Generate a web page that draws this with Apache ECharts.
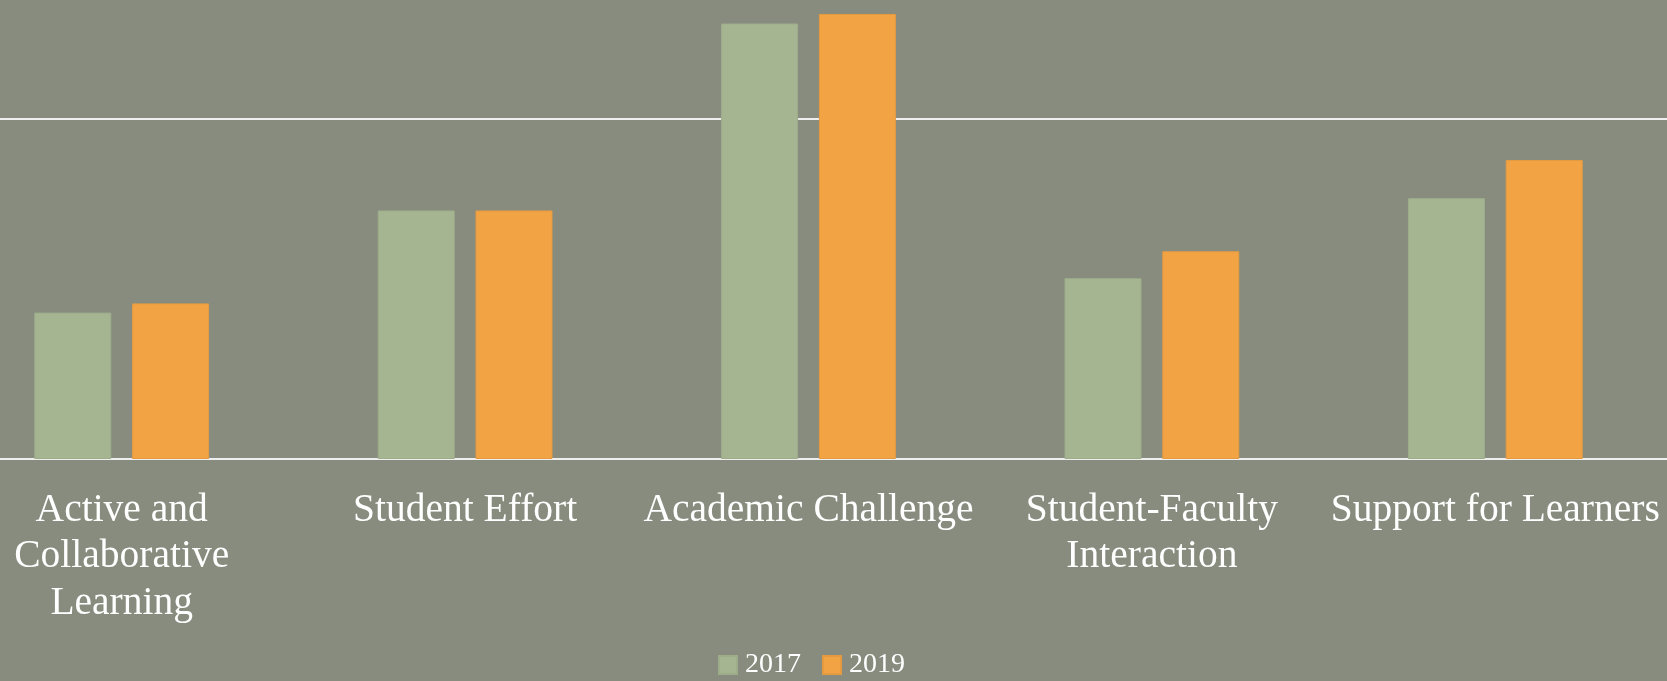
<!DOCTYPE html>
<html>
<head>
<meta charset="utf-8">
<script src="https://cdn.jsdelivr.net/npm/echarts@6/dist/echarts.min.js"></script>
<style>
html,body{margin:0;padding:0;background:#878c7e;}
#chart{width:1667px;height:681px;}
</style>
</head>
<body>
<div id="chart"></div>
<script>
var categories = ['Active and\nCollaborative\nLearning', 'Student Effort', 'Academic Challenge', 'Student-Faculty\nInteraction', 'Support for Learners'];
var values2017 = [4.30, 7.30, 12.79, 5.31, 7.66];
var values2019 = [4.57, 7.30, 13.07, 6.10, 8.78];
var seriesNames = ['2017', '2019'];
var yTicks = [0, 10, 20];

var chart = echarts.init(document.getElementById('chart'), null, {renderer: 'canvas'});
chart.setOption({
  backgroundColor: '#878c7e',
  animation: false,
  textStyle: {fontFamily: 'Liberation Serif'},
  legend: {
    data: seriesNames,
    left: 713,
    top: 646,
    padding: 5,
    itemWidth: 18,
    itemHeight: 18,
    itemGap: 21,
    icon: 'rect',
    textStyle: {color: '#ffffff', fontSize: 28, fontFamily: 'Liberation Serif', padding: [0, 0, 0, 3]}
  },
  grid: {left: -50, width: 1717, top: -222, height: 681, containLabel: false, outerBoundsMode: 'none'},
  xAxis: {
    type: 'category',
    data: categories,
    axisLine: {show: true, lineStyle: {color: '#eeeeee', width: 2}},
    axisTick: {show: false},
    axisLabel: {
      color: '#ffffff',
      fontSize: 39.5,
      lineHeight: 46.5,
      margin: 28,
      interval: 0,
      fontFamily: 'Liberation Serif'
    }
  },
  yAxis: {
    type: 'value',
    min: yTicks[0],
    max: yTicks[yTicks.length - 1],
    interval: yTicks[1] - yTicks[0],
    axisLabel: {show: false},
    axisLine: {show: false},
    axisTick: {show: false},
    splitLine: {show: true, lineStyle: {color: '#eeeeee', width: 2}}
  },
  series: [
    {
      name: seriesNames[0],
      type: 'bar',
      data: values2017,
      barWidth: 77,
      barGap: '27%',
      itemStyle: {color: '#a5b592', borderColor: '#9dad8a', borderWidth: 1}
    },
    {
      name: seriesNames[1],
      type: 'bar',
      data: values2019,
      barWidth: 77,
      barGap: '27%',
      itemStyle: {color: '#f2a444', borderColor: '#e69a40', borderWidth: 1}
    }
  ]
});
</script>
</body>
</html>
